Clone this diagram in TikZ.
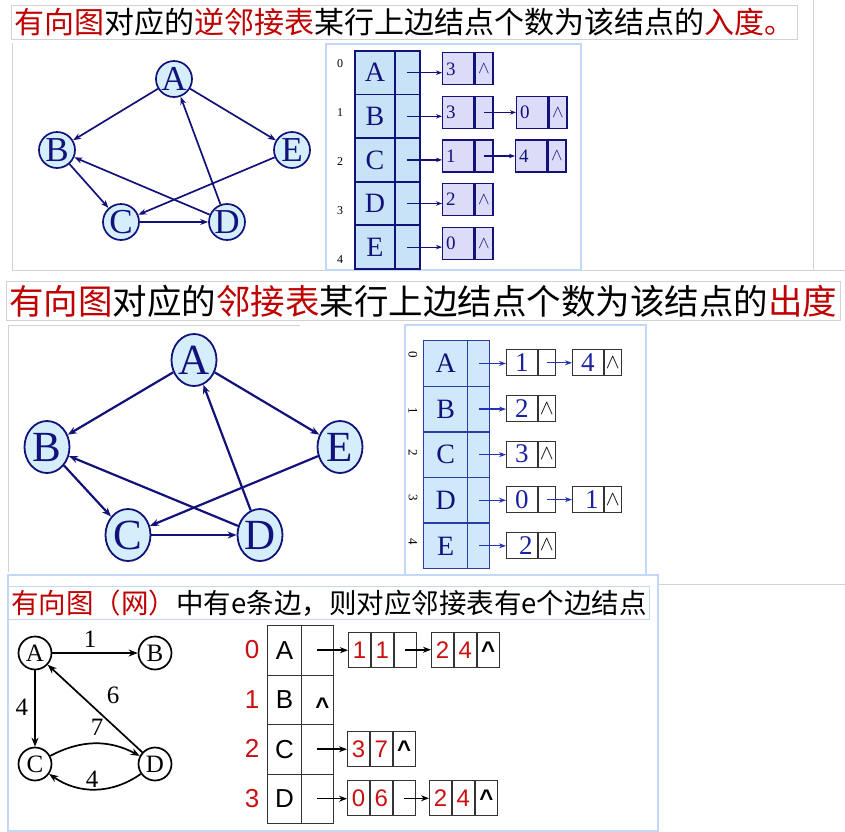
\documentclass[tikz,border=0pt]{standalone}
\usepackage{fontspec}
\setmainfont{Liberation Serif}
\setsansfont{Liberation Sans}
\newfontfamily\cjk{Noto Sans CJK SC}
\usetikzlibrary{arrows.meta,shapes.geometric}
\definecolor{navy}{HTML}{12127A}
\definecolor{gfill}{HTML}{D4EEFC}
\definecolor{tfill}{HTML}{C8E2F8}
\definecolor{tfillb}{HTML}{CFE9FB}
\definecolor{lav}{HTML}{DCDCF8}
\definecolor{tred}{HTML}{C00000}
\definecolor{ired}{HTML}{CC1010}
\definecolor{frm}{HTML}{D2D2D2}
\definecolor{lblue}{HTML}{C2D8F6}
\definecolor{tborder}{HTML}{2E3CA6}
\definecolor{arrblue}{HTML}{2432B4}
\definecolor{digblue}{HTML}{1A22A0}
\tikzset{
 frame/.style={draw=frm, line width=0.9pt},
 bframe/.style={draw=lblue, line width=1.1pt},
 ttl/.style={anchor=west, fill=white, draw=frm, line width=0.8pt, inner xsep=3pt, inner ysep=3pt},
 gA/.style={circle, draw=navy, line width=1.7pt, fill=gfill, minimum size=36pt, inner sep=0pt, text=navy, font=\fontsize{35}{35}\selectfont},
 eA/.style={draw=navy, line width=1.7pt, -{Stealth[length=8pt,width=6pt]}},
 gB/.style={ellipse, draw=navy, line width=1.8pt, fill=gfill, minimum width=45pt, minimum height=52pt, inner sep=0pt, text=navy, font=\fontsize{43}{43}\selectfont},
 eB/.style={draw=navy, line width=2.2pt, -{Stealth[length=9pt,width=7pt]}},
 gC/.style={circle, draw=black, line width=1.7pt, fill=white, minimum size=33pt, inner sep=0pt, font=\fontsize{25}{25}\selectfont},
 eC/.style={draw=black, line width=1.7pt, -{Stealth[length=9pt,width=7pt]}},
 wC/.style={font=\fontsize{25}{25}\selectfont, inner sep=0pt},
 v1/.style={rectangle, draw=navy, line width=1.8pt, fill=tfill, anchor=north west, minimum width=40pt, minimum height=43.6pt, inner sep=0pt, text=navy, font=\fontsize{28}{28}\selectfont},
 p1/.style={v1, minimum width=25pt},
 x1/.style={font=\fontsize{12}{12}\selectfont, inner sep=0pt},
 d1/.style={rectangle, draw=navy, line width=1.3pt, fill=lav, anchor=west, minimum height=32pt, text width=24pt, inner xsep=3.5pt, inner ysep=0pt, align=left, text=navy, font=\fontsize{19}{19}\selectfont},
 k1/.style={rectangle, draw=navy, line width=1.3pt, fill=lav, anchor=west, minimum width=18pt, minimum height=32pt, inner sep=0pt, text=navy, font=\fontsize{18}{18}\selectfont},
 a1/.style={draw=navy, line width=1.2pt, -{Stealth[length=6pt,width=4.5pt]}},
 v2/.style={rectangle, draw=tborder, line width=1.3pt, fill=tfillb, anchor=north west, minimum width=44pt, minimum height=45.6pt, inner sep=0pt, text=navy, font=\fontsize{28}{28}\selectfont},
 p2/.style={v2, minimum width=22pt},
 x2/.style={rotate=-90, font=\fontsize{13}{13}\selectfont, inner sep=0pt},
 d2/.style={rectangle, draw=black!80, line width=0.8pt, fill=white, anchor=west, minimum width=31pt, minimum height=26pt, inner sep=0pt, text=digblue, font=\fontsize{27}{27}\selectfont},
 k2/.style={d2, minimum width=17pt, text=black, font=\fontsize{20}{20}\selectfont},
 a2/.style={draw=arrblue, line width=1.2pt, -{Stealth[length=7pt,width=5pt]}},
 v3/.style={rectangle, draw=black!80, line width=0.9pt, fill=white, anchor=north west, minimum width=34pt, minimum height=49.5pt, inner sep=0pt, font=\sffamily\fontsize{26}{26}\selectfont},
 p3/.style={v3, minimum width=32pt, font=\sffamily\bfseries\fontsize{24}{24}\selectfont},
 x3/.style={text=ired, font=\sffamily\fontsize{26}{26}\selectfont, inner sep=0pt},
 c3/.style={rectangle, draw=black!80, line width=0.9pt, fill=white, anchor=west, minimum width=22pt, minimum height=35pt, inner sep=0pt, text=ired, font=\sffamily\fontsize{24}{24}\selectfont},
 q3/.style={c3, text=black, font=\sffamily\bfseries\fontsize{24}{24}\selectfont},
 a3/.style={draw=black, line width=1.5pt, -{Stealth[length=8pt,width=6pt]}},
}
\begin{document}
\begin{tikzpicture}[x=1pt,y=-1pt]
\useasboundingbox[fill=white] (0,0) rectangle (845,831);
% ---------- frames ----------
\draw[frame] (12,43) -- (12,270) -- (845,270);
\draw[frame] (813,0) -- (813,270);
\draw[bframe] (326,44) rectangle (581,270);
\draw[frame] (8,325) -- (8,572);
\draw[frame] (8,325) -- (300,325);
\draw[bframe] (405,325) rectangle (646,575);
\draw[frame] (658,584) -- (845,584);
\draw[bframe] (8,575) rectangle (658,831);
% ---------- titles ----------
\node[ttl, font=\cjk\fontsize{30}{30}\selectfont] (T1) at (11,22)
 {{\color{tred}有向图}对应的{\color{tred}逆邻接表}某行上边结点个数为该结点的{\color{tred}入度。}};
\node[ttl, font=\cjk\fontsize{34.5}{34.5}\selectfont] (T2) at (6,301)
 {{\color{tred}有向图}对应的{\color{tred}邻接表}某行上边结点个数为该结点的{\color{tred}出度}};
\node[ttl, draw=lblue, font=\cjk\fontsize{27.5}{27.5}\selectfont] (T3) at (8,603)
 {{\color{tred}有向图（网）}中有e条边，则对应邻接表有e个边结点};
% ---------- graph 1 ----------
\node[gA] (A1) at (174,79) {A};
\node[gA] (B1) at (57,150) {B};
\node[gA] (E1) at (292,150) {E};
\node[gA] (C1) at (121,222) {C};
\node[gA] (D1) at (227,222) {D};
\draw[eA] (A1) -- (B1);
\draw[eA] (A1) -- (E1);
\draw[eA] (B1) -- (C1);
\draw[eA] (E1) -- (C1);
\draw[eA] (C1) -- (D1);
\draw[eA] (D1) -- (A1);
\draw[eA] (D1) -- (B1);
% ---------- list 1 (inverse adjacency) ----------
\foreach \L/\r in {A/0,B/1,C/2,D/3,E/4}{
  \node[v1] (v1\L) at (354,50+43.6*\r) {\L};
  \node[p1] (p1\L) at (394,50+43.6*\r) {};
  \node[x1] (i1\L) at (340,64+49*\r) {\r};
}
\node[d1] (d1A) at (442,68.8) {3};
\node[k1] (k1A) at (d1A.east) {$\wedge$};
\node[d1] (d1B) at (442,112.4) {3};
\node[k1] (k1B) at (d1B.east) {};
\node[d1] (d1B2) at (516,112.4) {0};
\node[k1] (k1B2) at (d1B2.east) {$\wedge$};
\node[d1] (d1C) at (442,156) {1};
\node[k1] (k1C) at (d1C.east) {};
\node[d1] (d1C2) at (515,156) {4};
\node[k1] (k1C2) at (d1C2.east) {$\wedge$};
\node[d1] (d1D) at (442,199.6) {2};
\node[k1] (k1D) at (d1D.east) {$\wedge$};
\node[d1] (d1E) at (442,243.2) {0};
\node[k1] (k1E) at (d1E.east) {$\wedge$};
\foreach \L in {A,B,C,D,E}{
  \draw[a1] (p1\L.center) -- (p1\L.center -| d1\L.west);
}
\draw[a1] (k1B.center) -- (k1B.center -| d1B2.west);
\draw[a1] (k1C.center) -- (k1C.center -| d1C2.west);
% ---------- graph 2 ----------
\node[gB] (A2) at (194,360) {A};
\node[gB] (B2) at (47,447) {B};
\node[gB] (E2) at (340,447) {E};
\node[gB] (C2) at (128,535) {C};
\node[gB] (D2) at (260,535) {D};
\draw[eB] (A2) -- (B2);
\draw[eB] (A2) -- (E2);
\draw[eB] (B2) -- (C2);
\draw[eB] (E2) -- (C2);
\draw[eB] (C2) -- (D2);
\draw[eB] (D2) -- (A2);
\draw[eB] (D2) -- (B2);
% ---------- list 2 (adjacency) ----------
\foreach \L/\r/\iy in {A/0/355,B/1/411,C/2/453,D/3/498,E/4/542}{
  \node[v2] (v2\L) at (423,340+45.6*\r) {\L};
  \node[p2] (p2\L) at (467,340+45.6*\r) {};
  \node[x2] (i2\L) at (413,\iy) {\r};
}
\node[d2] (d2A) at (506,362.8) {1};
\node[k2] (k2A) at (d2A.east) {};
\node[d2] (d2A2) at (572,362.8) {4};
\node[k2] (k2A2) at (d2A2.east) {$\wedge$};
\node[d2] (d2B) at (506,408.4) {2};
\node[k2] (k2B) at (d2B.east) {$\wedge$};
\node[d2] (d2C) at (506,454) {3};
\node[k2] (k2C) at (d2C.east) {$\wedge$};
\node[d2] (d2D) at (506,499.6) {0};
\node[k2] (k2D) at (d2D.east) {};
\node[d2] (d2D2) at (572,499.6) {\hspace{8pt}1};
\node[k2] (k2D2) at (d2D2.east) {$\wedge$};
\node[d2] (d2E) at (506,545.2) {\hspace{8pt}2};
\node[k2] (k2E) at (d2E.east) {$\wedge$};
\foreach \L in {A,B,C,D,E}{
  \draw[a2] (p2\L.center) -- (p2\L.center -| d2\L.west);
}
\draw[a2] (k2A.center) -- (k2A.center -| d2A2.west);
\draw[a2] (k2D.center) -- (k2D.center -| d2D2.west);
% ---------- graph 3 (network) ----------
\node[gC] (A3) at (35,653) {A};
\node[gC] (B3) at (155,653) {B};
\node[gC] (C3) at (35,764) {C};
\node[gC] (D3) at (155,764) {D};
\draw[eC] (A3) -- (B3);
\draw[eC] (A3) -- (C3);
\draw[eC] (D3) -- (A3);
\draw[eC] (C3) to[bend left=28] (D3);
\draw[eC] (D3) to[bend left=35] (C3);
\node[wC] (w1) at (90,639) {1};
\node[wC] (w2) at (22,707) {4};
\node[wC] (w3) at (113,695) {6};
\node[wC] (w4) at (97,727) {7};
\node[wC] (w5) at (92,779) {4};
% ---------- list 3 ----------
\foreach \L/\r in {A/0,B/1,C/2,D/3}{
  \node[v3] (v3\L) at (267,625+49.5*\r) {\L};
  \node[x3] (i3\L) at (252,649.75+49.5*\r) {\r};
}
\node[p3] (p3A) at (301,625) {};
\node[p3, text height=30pt, text depth=0pt] (p3B) at (301,674.5) {\hspace{10pt}\char"5E};
\node[p3] (p3C) at (301,724) {};
\node[p3] (p3D) at (301,773.5) {};
\node[c3] (r3A1) at (348,649.75) {1};
\node[c3] (r3A2) at (r3A1.east) {1};
\node[c3] (r3A3) at (r3A2.east) {};
\node[c3] (s3A1) at (431,649.75) {2};
\node[c3] (s3A2) at (s3A1.east) {4};
\node[q3] (s3A3) at (s3A2.east) {\char"5E};
\node[c3] (r3C1) at (347,748.75) {3};
\node[c3] (r3C2) at (r3C1.east) {7};
\node[q3] (r3C3) at (r3C2.east) {\char"5E};
\node[c3] (r3D1) at (347,798.25) {0};
\node[c3] (r3D2) at (r3D1.east) {6};
\node[c3] (r3D3) at (r3D2.east) {};
\node[c3] (s3D1) at (429,798.25) {2};
\node[c3] (s3D2) at (s3D1.east) {4};
\node[q3] (s3D3) at (s3D2.east) {\char"5E};
\draw[a3] (p3A.center) -- (p3A.center -| r3A1.west);
\draw[a3] (p3C.center) -- (p3C.center -| r3C1.west);
\draw[a3] (p3D.center) -- (p3D.center -| r3D1.west);
\draw[a3] (r3A3.center) -- (r3A3.center -| s3A1.west);
\draw[a3] (r3D3.center) -- (r3D3.center -| s3D1.west);
\end{tikzpicture}
\end{document}
